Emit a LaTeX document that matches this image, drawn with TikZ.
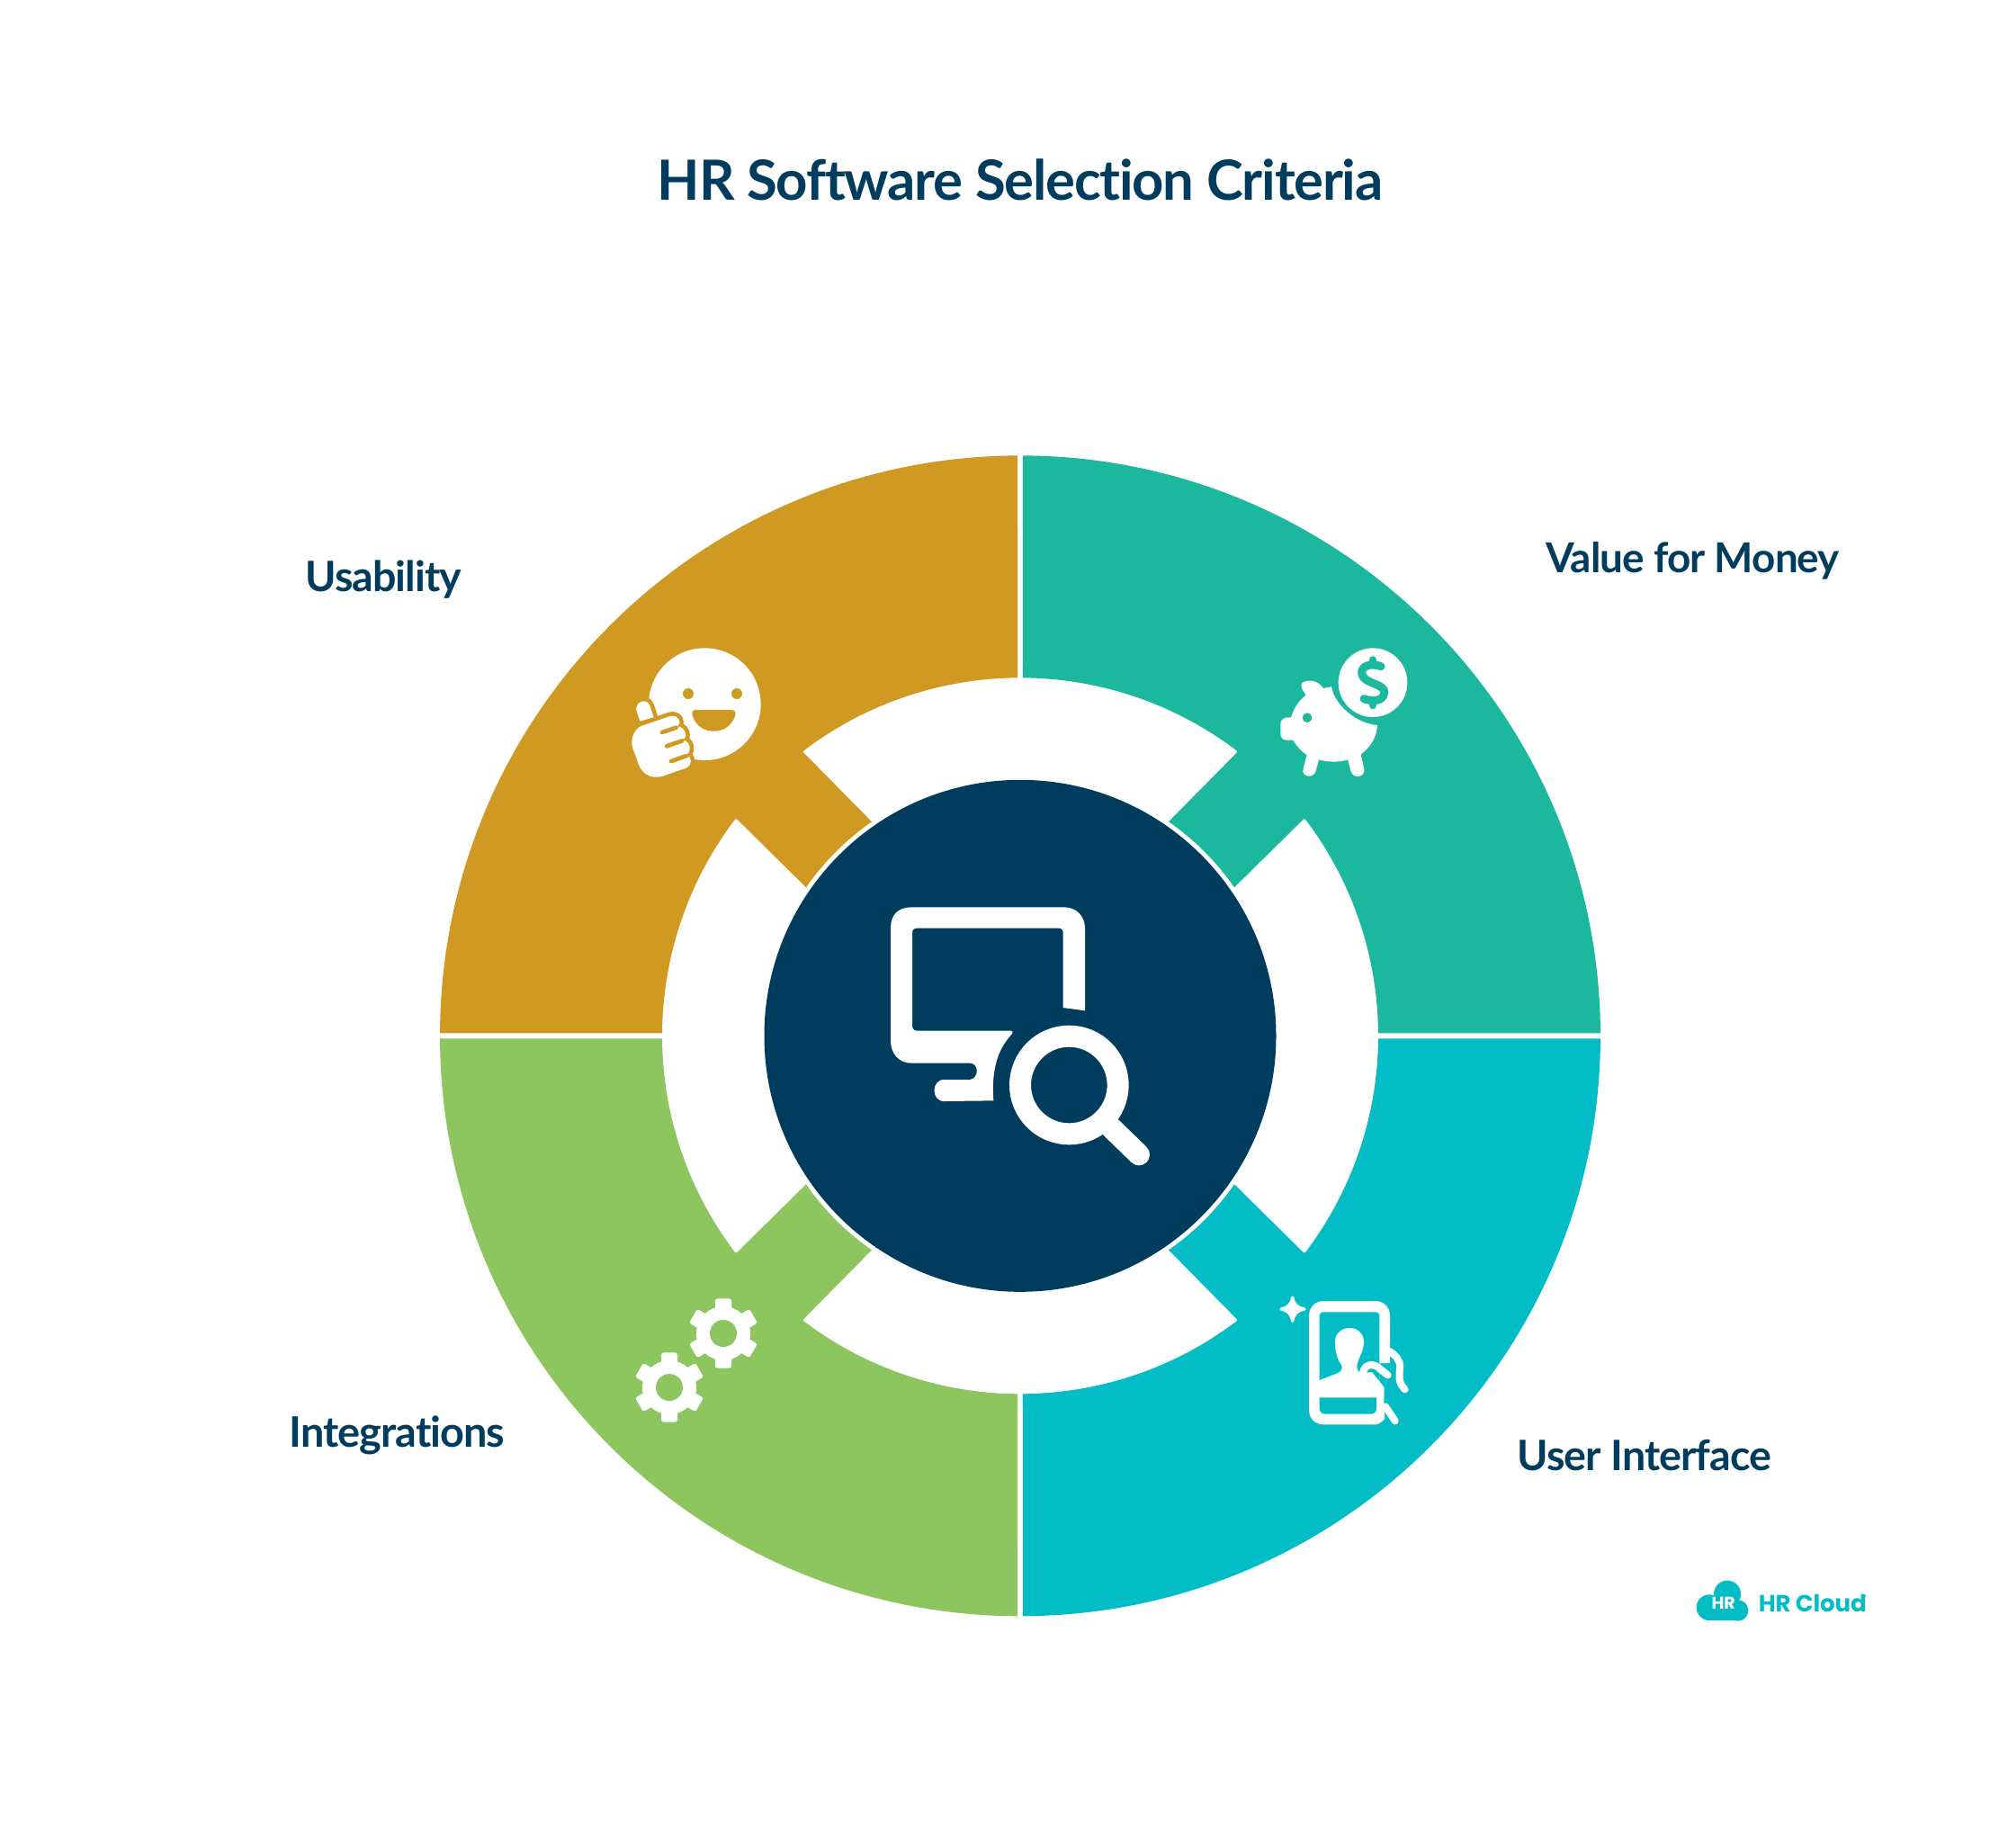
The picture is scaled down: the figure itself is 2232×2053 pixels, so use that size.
\documentclass[tikz,border=0pt]{standalone}
\usepackage{fontspec}
\setmainfont[Ligatures=NoCommon]{Lato}
\newfontfamily\logofont{Poppins}
\definecolor{navy}{HTML}{003C5D}
\definecolor{segteal}{HTML}{1CB89D}
\definecolor{seggold}{HTML}{CF9922}
\definecolor{seggreen}{HTML}{8DC65F}
\definecolor{segcyan}{HTML}{02BDC6}
\tikzset{
  labeltext/.style={text=navy,font=\fontsize{#1}{27}\selectfont\bfseries\addfontfeature{LetterSpace=-2},anchor=base west,inner sep=0pt},
  zw/.style={line width=#1*0.16667pt},
}
\newcommand{\quadseg}[2]{%
 \begin{scope}[shift={(1134,1151.3)},rotate=#1]
  \fill[#2] (-89.73:645) arc[start angle=-89.73,end angle=-0.27,radius=645]
    -- (-0.43:398) arc[start angle=-0.43,end angle=-36.9,radius=398]
    .. controls (316,-242) .. (313,-239) -- (238,-165)
    arc[start angle=-34.73,end angle=-55.27,radius=289.6]
    -- (239,-313) .. controls (242,-316) .. (-53.1:398)
    arc[start angle=-53.1,end angle=-89.57,radius=398] -- cycle;
 \end{scope}}
\newcommand{\gearicon}[3]{%
 \begin{scope}[shift={(#1,#2)}]
  \fill[white] (0,0) circle[radius=90];
  \foreach \a in {0,60,...,300}{
   \fill[white,rotate=\a,rounded corners=1.3pt] (-27,0) -- (-27,-116) -- (27,-116) -- (27,0) -- cycle;}
  \fill[#3] (0,0) circle[radius=45];
 \end{scope}}
\begin{document}
\begin{tikzpicture}[x=.5pt,y=.5pt,yscale=-1]
\useasboundingbox (0,0) rectangle (2232,2053);
\fill[white] (0,0) rectangle (2232,2053);

\node[text=navy,font=\fontsize{30.8}{36}\selectfont\bfseries\addfontfeature{LetterSpace=-2},anchor=base,inner sep=0pt] (title) at (1134,222.7) {HR Software Selection Criteria};

\quadseg{0}{segteal}
\quadseg{90}{segcyan}
\quadseg{180}{seggreen}
\quadseg{270}{seggold}
\fill[navy] (1134,1151.3) circle[radius=284.5];

\node[labeltext=23.3] (usab) at (339,657) {Usability};
\node[labeltext=22.9] (value) at (1718,636) {Value for Money};
\node[labeltext=23.4] (integ) at (321,1608) {Integrations};
\node[labeltext=23.3] (ui) at (1686,1634) {User Interface};

% central icon
\begin{scope}[shift={(960,980)},scale=1/3]
 \fill[white] (665,420) -- (665,170) .. controls (665,160) and (660,155) .. (650,155) -- (178,155)
   .. controls (168,155) and (162,160) .. (162,170) -- (162,480) .. controls (162,490) and (168,497) .. (178,497)
   -- (490,497) .. controls (497,497) and (499,502) .. (495,507) .. controls (450,555) and (425,620) .. (433,730)
   -- (268,732) .. controls (225,732) and (225,660) .. (268,660) -- (355,660)
   .. controls (385,655) and (385,605) .. (355,605) -- (160,605)
   .. controls (115,605) and (90,570) .. (90,530) -- (90,155)
   .. controls (90,110) and (115,85) .. (160,85) -- (668,85)
   .. controls (710,85) and (738,115) .. (738,155) -- (738,430) -- cycle;
 \draw[white,zw=72] (685,678) circle[radius=163];
 \draw[white,zw=72,line cap=round] (815,810) -- (918,910);
\end{scope}

% piggy icon
\begin{scope}[shift={(1380,680)},scale=1/3]
 \fill[white] (438,236) circle[radius=115];
 \draw[segteal,zw=27,line cap=round] (465,182) .. controls (430,170) and (395,180) .. (402,210)
   .. controls (410,240) and (480,240) .. (476,270) .. controls (472,300) and (435,300) .. (408,290);
 \draw[segteal,zw=25,line cap=round] (438,160) -- (438,175) (438,298) -- (438,312);
 \fill[white] (205,235) .. controls (235,222) and (260,235) .. (272,255) -- (300,250)
   .. controls (310,310) and (380,372) .. (453,378)
   .. controls (450,425) and (425,455) .. (398,475)
   -- (409,525) .. controls (412,552) and (372,560) .. (364,530)
   -- (355,493) .. controls (325,502) and (290,502) .. (258,493)
   -- (248,530) .. controls (240,558) and (198,552) .. (206,522)
   -- (218,477) .. controls (198,465) and (182,445) .. (172,428)
   -- (150,428) .. controls (135,428) and (130,415) .. (130,405) -- (130,375)
   .. controls (130,360) and (140,350) .. (165,352)
   .. controls (175,320) and (192,295) .. (215,278)
   .. controls (205,262) and (190,245) .. (205,235) -- cycle;
 \fill[segteal] (219,353) circle[radius=16];
\end{scope}

% smiley icon
\begin{scope}[shift={(680,690)},scale=1/3]
 \fill[white] (310,278) circle[radius=187];
 \fill[seggold] (255,243) circle[radius=18] (417,243) circle[radius=18];
 \fill[seggold] (280,297) -- (400,297) .. controls (412,297) and (415,308) .. (411,318)
   .. controls (400,350) and (372,368) .. (340,368) .. controls (308,368) and (280,350) .. (270,318)
   .. controls (266,308) and (268,297) .. (280,297) -- cycle;
 \path[fill=white,preaction={draw=seggold,zw=28,line join=round}] (94,335) -- (82,298) .. controls (78,268) and (118,255) .. (128,285) -- (140,322) -- cycle;
 \path[fill=white,preaction={draw=seggold,zw=28,line join=round}] (100,350) -- (195,318) .. controls (222,312) and (235,340) .. (220,352)
   .. controls (245,355) and (255,385) .. (238,398) .. controls (260,400) and (268,430) .. (250,448)
   .. controls (268,455) and (268,480) .. (250,490) -- (170,518)
   .. controls (125,530) and (100,505) .. (90,480) -- (70,425) .. controls (60,395) and (75,360) .. (100,350) -- cycle;
 \draw[seggold,zw=14,line cap=round] (168,372) -- (215,356) (183,418) -- (235,400) (198,468) -- (250,450);
\end{scope}

% gears icon
\begin{scope}[shift={(680,1420)},scale=1/3]
 \gearicon{372}{186}{seggreen}
 \gearicon{192}{366}{seggreen}
\end{scope}

% phone icon
\begin{scope}[shift={(1400,1420)},scale=1/3]
 \fill[white] (215,78) -- (385,78) .. controls (415,78) and (435,98) .. (435,128) -- (435,285) -- (400,285) -- (400,360)
   -- (415,365) -- (415,425) -- (418,470) .. controls (405,485) and (395,490) .. (385,490) -- (215,490)
   .. controls (185,490) and (165,470) .. (165,440) -- (165,128) .. controls (165,98) and (185,78) .. (215,78) -- cycle;
 \fill[segcyan] (215,115) -- (385,115) .. controls (395,115) and (400,120) .. (400,130) -- (400,345) -- (200,345) -- (200,130)
   .. controls (200,120) and (205,115) .. (215,115) -- cycle;
 \fill[white] (300,168) .. controls (330,168) and (348,190) .. (348,215) .. controls (348,250) and (325,270) .. (325,300)
   .. controls (325,312) and (335,318) .. (345,318) -- (375,315) -- (415,365) -- (415,400) -- (200,400) -- (200,342)
   -- (262,318) .. controls (275,312) and (278,300) .. (272,290) .. controls (258,268) and (252,245) .. (252,215)
   .. controls (252,188) and (272,168) .. (300,168) -- cycle;
 \fill[segcyan] (200,400) -- (390,400) -- (390,435) .. controls (390,448) and (382,455) .. (370,455) -- (220,455)
   .. controls (208,455) and (200,448) .. (200,435) -- cycle;
 \draw[white,zw=24,line cap=round] (345,318) .. controls (350,285) and (385,285) .. (402,305) -- (428,325);
 \draw[white,zw=24,line cap=round] (432,245) .. controls (455,260) and (470,275) .. (468,300) .. controls (465,345) and (465,350) .. (485,373);
 \draw[white,zw=24,line cap=round] (420,430) -- (452,478);
 \path[fill=white,draw=white,zw=10,line join=round] (110,66) .. controls (114,90) and (125,100) .. (150,105)
   .. controls (125,110) and (114,120) .. (110,145) .. controls (106,120) and (95,110) .. (72,105)
   .. controls (95,100) and (106,90) .. (110,66) -- cycle;
\end{scope}

% logo
\begin{scope}[shift={(1870,1740)},scale=1/3]
 \fill[segcyan] (150,95) circle[radius=45] (90,140) circle[radius=43] (185,150) circle[radius=35];
 \fill[segcyan] (90,125) rectangle (185,183);
 \node[text=white,font=\logofont\fontsize{9.5}{11}\selectfont\bfseries,inner sep=0pt] (logoHR) at (137,125) {HR};
 \node[text=segcyan,font=\logofont\fontsize{13}{15}\selectfont\bfseries\addfontfeature{LetterSpace=-.5},anchor=base west,inner sep=0pt] (logoname) at (253,155) {HR Cloud};
 \node[text=segcyan,font=\logofont\fontsize{3}{4}\selectfont,inner sep=0pt] (logoreg) at (612,105) {®};
\end{scope}
\end{tikzpicture}
\end{document}
